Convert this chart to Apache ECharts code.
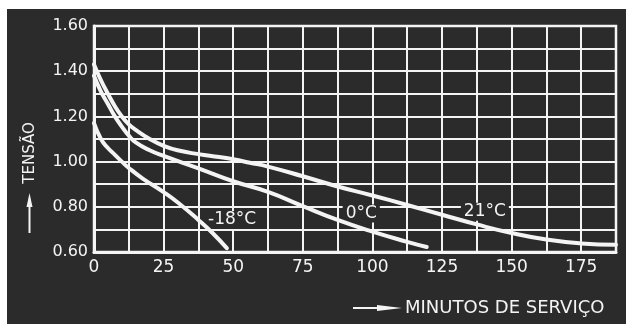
<!DOCTYPE html>
<html>
<head>
<meta charset="utf-8">
<script src="https://cdn.jsdelivr.net/npm/echarts@6/dist/echarts.min.js"></script>
<style>
  html, body { margin: 0; padding: 0; background: #ffffff; }
  #wrap { position: relative; width: 626px; height: 324px; overflow: hidden; }
  #paper { position: absolute; left: 7px; top: 9px; right: 0; bottom: 0; background: #2b2b2b; }
  #chart { position: absolute; left: 0; top: 0; width: 626px; height: 324px; }
</style>
</head>
<body>
<div id="wrap">
  <div id="paper"></div>
  <div id="chart"></div>
</div>
<script>
// leituras da figura: minutos de serviço x tensão (V)
const minutes21 = [0, 2.5, 5, 7.5, 10, 12.5, 15, 20, 25, 30, 37.5, 45, 50, 56, 62.5, 75, 87.5, 100, 112.5, 125, 137.5, 150, 162.5, 175, 187.5]
const volts21 = [1.43, 1.36, 1.30, 1.245, 1.20, 1.165, 1.14, 1.10, 1.07, 1.05, 1.033, 1.02, 1.01, 0.995, 0.978, 0.935, 0.89, 0.85, 0.808, 0.765, 0.722, 0.684, 0.655, 0.638, 0.632]

const minutes0 = [0, 2.5, 5, 7.5, 10, 12.5, 15, 20, 25, 37.5, 50, 62.5, 75, 87.5, 100, 112.5, 119.5]
const volts0 = [1.38, 1.31, 1.255, 1.20, 1.155, 1.115, 1.085, 1.05, 1.025, 0.97, 0.913, 0.866, 0.803, 0.742, 0.69, 0.645, 0.622]

const minutesM18 = [0, 2.5, 5, 7.5, 10, 12.5, 17.5, 25, 30, 37.5, 42.5, 47.7]
const voltsM18 = [1.17, 1.10, 1.06, 1.03, 1.0, 0.972, 0.925, 0.865, 0.82, 0.742, 0.685, 0.617]

const curveNames = ['21°C', '0°C', '-18°C']
// onde fica o rótulo de cada curva (minutos, tensão)
const curveLabelAt = [[140.4, 0.778], [96, 0.77], [49.6, 0.742]]

const xTicks = [0, 25, 50, 75, 100, 125, 150, 175]
const yTicks = ['0.60', '0.80', '1.00', '1.20', '1.40', '1.60']

const WHITE = '#f4f4f4'
const BG = '#2b2b2b'
const FONT = 'DejaVu Sans'

function pairs(xs, ys) {
  return xs.map((x, i) => [x, ys[i]])
}

const curves = [
  pairs(minutes21, volts21),
  pairs(minutes0, volts0),
  pairs(minutesM18, voltsM18),
]

const lineSeries = curves.map((data, i) => ({
  type: 'line',
  name: curveNames[i],
  data,
  smooth: true,
  showSymbol: false,
  symbol: 'none',
  lineStyle: { color: WHITE, width: 4, cap: 'round' },
  z: 4,
}))

// rótulos das curvas: fundo escuro apaga a grade atrás do texto, mas fica sob as curvas
const labelSeries = {
  type: 'scatter',
  data: curveLabelAt.map((p, i) => ({ value: p, name: curveNames[i] })),
  symbolSize: 0,
  z: 3,
  silent: true,
  itemStyle: { opacity: 1, color: WHITE },
  label: {
    show: true,
    position: 'inside',
    formatter: (p) => p.name,
    color: WHITE,
    opacity: 1,
    fontFamily: FONT,
    fontSize: 17,
    backgroundColor: BG,
    padding: [1, 3, 0, 3],
  },
}

const chart = echarts.init(document.getElementById('chart'), null, { renderer: 'canvas' })

chart.setOption({
  backgroundColor: 'transparent',
  animation: false,
  grid: {
    left: 94,
    top: 26,
    right: 10,
    bottom: 72,
    show: true,
    borderColor: WHITE,
    borderWidth: 2.5,
  },
  xAxis: {
    type: 'value',
    min: 0,
    max: 187.5,
    interval: 12.5,
    axisLine: { show: true, lineStyle: { color: WHITE, width: 3 } },
    axisTick: { show: false },
    splitLine: { show: true, lineStyle: { color: WHITE, width: 2 } },
    axisLabel: {
      color: WHITE,
      fontFamily: FONT,
      fontSize: 17,
      margin: 7,
      formatter: (v) => (xTicks.includes(v) ? String(v) : ''),
    },
  },
  yAxis: {
    type: 'value',
    min: 0.6,
    max: 1.6,
    interval: 0.1,
    axisLine: { show: true, lineStyle: { color: WHITE, width: 3 } },
    axisTick: { show: false },
    splitLine: { show: true, lineStyle: { color: WHITE, width: 2 } },
    axisLabel: {
      color: WHITE,
      fontFamily: FONT,
      fontSize: 16,
      margin: 6,
      formatter: (v) => {
        const s = v.toFixed(2)
        return yTicks.includes(s) ? s : ''
      },
    },
  },
  series: [...lineSeries, labelSeries],
  graphic: [
    {
      type: 'text',
      x: 30,
      y: 153,
      rotation: Math.PI / 2,
      style: {
        text: 'TENSÃO',
        fill: WHITE,
        font: '15px "DejaVu Sans"',
        align: 'center',
        verticalAlign: 'middle',
      },
    },
    {
      type: 'line',
      shape: { x1: 29.5, y1: 233, x2: 29.5, y2: 203 },
      style: { stroke: WHITE, lineWidth: 2 },
    },
    {
      type: 'polygon',
      shape: { points: [[26.5, 207], [29.5, 193], [32.5, 207]] },
      style: { fill: WHITE },
    },
    {
      type: 'line',
      shape: { x1: 353, y1: 308, x2: 382, y2: 308 },
      style: { stroke: WHITE, lineWidth: 2 },
    },
    {
      type: 'polygon',
      shape: { points: [[377, 305], [402, 308], [377, 311]] },
      style: { fill: WHITE },
    },
    {
      type: 'text',
      x: 405,
      y: 308,
      style: {
        text: 'MINUTOS DE SERVIÇO',
        fill: WHITE,
        font: '18px "DejaVu Sans"',
        align: 'left',
        verticalAlign: 'middle',
      },
    },
  ],
})
</script>
</body>
</html>
